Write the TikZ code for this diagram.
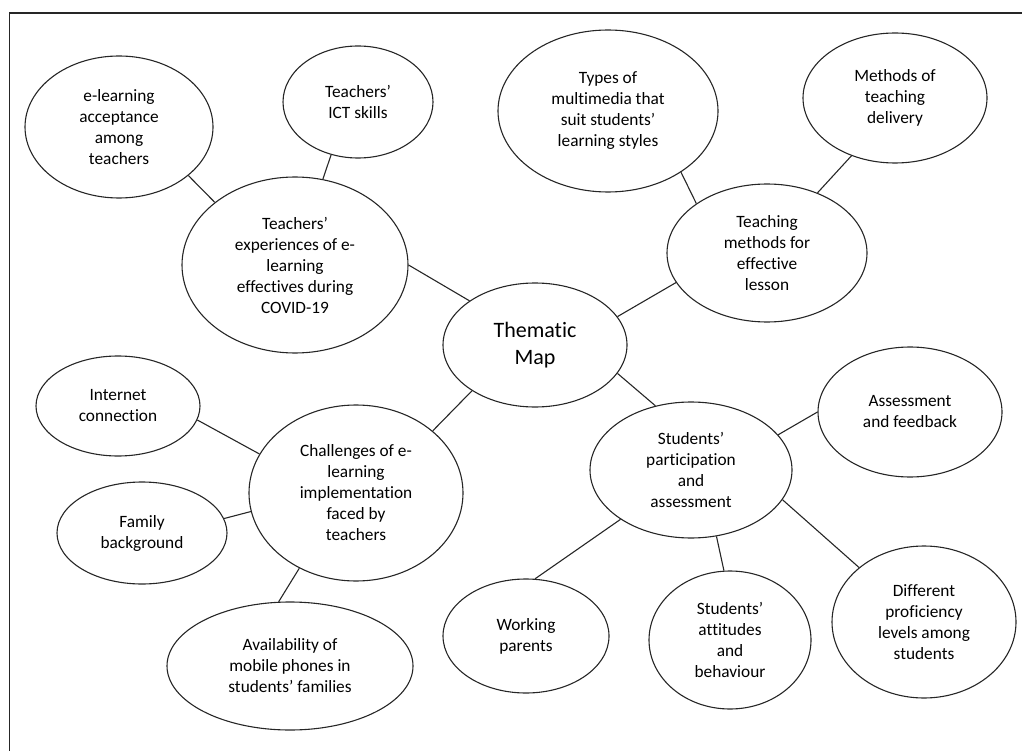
\documentclass[tikz,border=0pt]{standalone}
\usepackage{fontspec}
\setmainfont{Carlito}[Ligatures={NoCommon}, Contextuals={NoAlternate}]
\usetikzlibrary{shapes.geometric}
\newcommand\nolig{\kern0pt }
\begin{document}
\begin{tikzpicture}[x=1pt,y=-1pt,
  bub/.style={ellipse, draw=black!85, line width=1.1pt, inner sep=0pt, align=center,
    font=\fontsize{17.3}{21}\selectfont},
  link/.style={draw=black!85, line width=1.1pt},
  frame/.style={draw=black!85, line width=1.1pt}]
\useasboundingbox (0,0) rectangle (1022,751);
\draw[frame] (1022,13) -- (9.5,13) -- (9.5,751);

\node[bub, minimum width=188pt, minimum height=142pt] (elearn) at (119,127) {e-learning\\acceptance\\among\\teachers};
\node[bub, minimum width=150pt, minimum height=112pt] (ict) at (358,102) {Teachers’\\ICT skills};
\node[bub, minimum width=226pt, minimum height=176pt] (exper) at (295,265) {Teachers’\\experiences of e-\\learning\\effect\nolig ives during\\COVID-19};
\node[bub, minimum width=184pt, minimum height=124pt, font=\fontsize{22}{27.5}\selectfont] (them) at (535,345) {Themat\nolig ic\\Map};
\node[bub, minimum width=220pt, minimum height=162pt] (types) at (608,111) {Types of\\mult\nolig imedia that\\suit students’\\learning styles};
\node[bub, minimum width=184pt, minimum height=130pt] (deliv) at (895,98) {Methods of\\teaching\\delivery};
\node[bub, minimum width=200pt, minimum height=138pt] (teach) at (767,253) {Teaching\\methods for\\effect\nolig ive\\lesson};
\node[bub, minimum width=164pt, minimum height=100pt] (inet) at (118,406) {Internet\\connect\nolig ion};
\node[bub, minimum width=170pt, minimum height=102pt] (family) at (142,533) {Family\\background};
\node[bub, minimum width=214pt, minimum height=176pt] (chal) at (356,493) {Challenges of e-\\learning\\implementat\nolig ion\\faced by\\teachers};
\node[bub, minimum width=246pt, minimum height=128pt] (avail) at (290,666) {Availability of\\mobile phones in\\students’ families};
\node[bub, minimum width=202pt, minimum height=136pt] (stud) at (691,470) {Students’\\part\nolig icipat\nolig ion\\and\\assessment};
\node[bub, minimum width=184pt, minimum height=130pt] (assess) at (910,412) {Assessment\\and feedback};
\node[bub, minimum width=166pt, minimum height=114pt] (work) at (526,636) {Working\\parents};
\node[bub, minimum width=162pt, minimum height=138pt] (att) at (730,640) {Students’\\at\nolig t\nolig itudes\\and\\behaviour};
\node[bub, minimum width=184pt, minimum height=152pt] (diff) at (924,622) {Different\\proficiency\\levels among\\students};

\draw[link] (elearn.-35.8) -- (exper.142.2);
\draw[link] (ict.243.4) -- (exper.72.4);
\draw[link] (exper.0) -- (them.146.3);
\draw[link] (types.-40.3) -- (teach.145.6);
\draw[link] (deliv.233.9) -- (teach.50.2);
\draw[link] (them.19.9) -- (teach.198.4);
\draw[link] (inet.-10.6) -- (chal.158.3);
\draw[link] (family.10.7) -- (chal.190.2);
\draw[link] (avail.100.6) -- (chal.233);
\draw[link] (chal.39.7) -- (them.216.7);
\draw[link] (them.-19.9) -- (stud.119);
\draw[link] (stud.22.8) -- (assess.180.6);
\draw[link] (stud.-18.1) -- (diff.140.7);
\draw[link] (stud.215.2) -- (work.81);
\draw[link] (stud.291.7) -- (att.95.8);
\end{tikzpicture}
\end{document}
